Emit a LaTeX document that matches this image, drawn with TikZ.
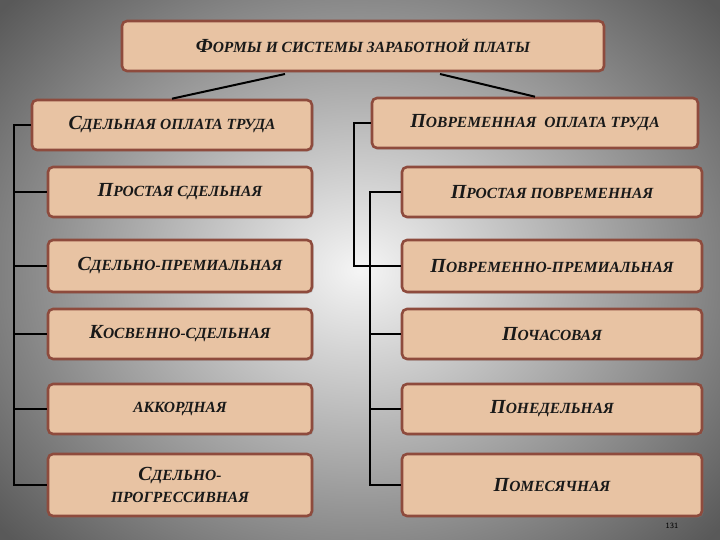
\documentclass[tikz,border=0pt]{standalone}
\usepackage{fontspec}
\setmainfont{Liberation Serif}
\usetikzlibrary{shadows}
\definecolor{boxfill}{HTML}{E8C3A3}
\definecolor{boxline}{HTML}{8E4B3D}
\newcommand{\SC}[2]{{\fontsize{20}{22}\selectfont #1}{\fontsize{15.5}{22}\selectfont #2}}
\tikzset{
  bx/.style={draw=boxline, line width=2.6pt, fill=boxfill, rounded corners=5pt,
    font=\bfseries\itshape, text=black!90, align=center, drop shadow={opacity=0.35,shadow xshift=1.5pt,shadow yshift=-1.5pt}},
  ln/.style={line width=2pt, black}
}
\begin{document}
\begin{tikzpicture}[x=1pt,y=-1pt]
\useasboundingbox (0,0) rectangle (720,540);
\shade[inner color=gray!8, outer color=black!65] (-120,-120) rectangle (840,660);
% boxes
\node[bx, minimum width=482, minimum height=50] (h) at (363,46) {\SC{Ф}{ОРМЫ И СИСТЕМЫ ЗАРАБОТНОЙ ПЛАТЫ}};
\node[bx, minimum width=280, minimum height=50] (l1) at (172,125) {\SC{С}{ДЕЛЬНАЯ ОПЛАТА ТРУДА}};
\node[bx, minimum width=264, minimum height=50] (l2) at (180,192) {\SC{П}{РОСТАЯ СДЕЛЬНАЯ}};
\node[bx, minimum width=264, minimum height=52] (l3) at (180,266) {\SC{С}{ДЕЛЬНО-ПРЕМИАЛЬНАЯ}};
\node[bx, minimum width=264, minimum height=50] (l4) at (180,334) {\SC{К}{ОСВЕННО-СДЕЛЬНАЯ}};
\node[bx, minimum width=264, minimum height=50] (l5) at (180,409) {{\fontsize{15.5}{22}\selectfont АККОРДНАЯ}};
\node[bx, minimum width=264, minimum height=62] (l6) at (180,485) {\SC{С}{ДЕЛЬНО-}\\[8pt]{\fontsize{15.5}{22}\selectfont ПРОГРЕССИВНАЯ}};
\node[bx, minimum width=326, minimum height=50] (r1) at (535,123) {\SC{П}{ОВРЕМЕННАЯ \ ОПЛАТА ТРУДА}};
\node[bx, minimum width=300, minimum height=50] (r2) at (552,192) {\SC{П}{РОСТАЯ ПОВРЕМЕННАЯ}};
\node[bx, minimum width=300, minimum height=52] (r3) at (552,266) {\SC{П}{ОВРЕМЕННО-ПРЕМИАЛЬНАЯ}};
\node[bx, minimum width=300, minimum height=50] (r4) at (552,334) {\SC{П}{ОЧАСОВАЯ}};
\node[bx, minimum width=300, minimum height=50] (r5) at (552,409) {\SC{П}{ОНЕДЕЛЬНАЯ}};
\node[bx, minimum width=300, minimum height=62] (r6) at (552,485) {\SC{П}{ОМЕСЯЧНАЯ}};
\node[font=\sffamily\fontsize{8}{9}\selectfont, text=black] (pg) at (672,526) {131};
% header links
\coordinate (ha) at (285,74);
\coordinate (hb) at (440,74);
\draw[ln] (ha) -- (l1.north);
\draw[ln] (hb) -- (r1.north);
% left tree
\coordinate (lt) at (14,125);
\coordinate (lb) at (14,485);
\draw[ln] (l1.west) -- (lt) -- (lb) -- (l6.west);
\foreach \n in {l2,l3,l4,l5} \draw[ln] (\n.west) -- (14,0 |- \n.west);
% right tree
\coordinate (ra) at (354,123);
\coordinate (rb) at (354,266);
\draw[ln] (r1.west) -- (ra) -- (rb) -- (r3.west);
\coordinate (rc) at (370,192);
\coordinate (rd) at (370,485);
\draw[ln] (r2.west) -- (rc) -- (rd) -- (r6.west);
\foreach \n in {r4,r5} \draw[ln] (\n.west) -- (370,0 |- \n.west);
\end{tikzpicture}
\end{document}
